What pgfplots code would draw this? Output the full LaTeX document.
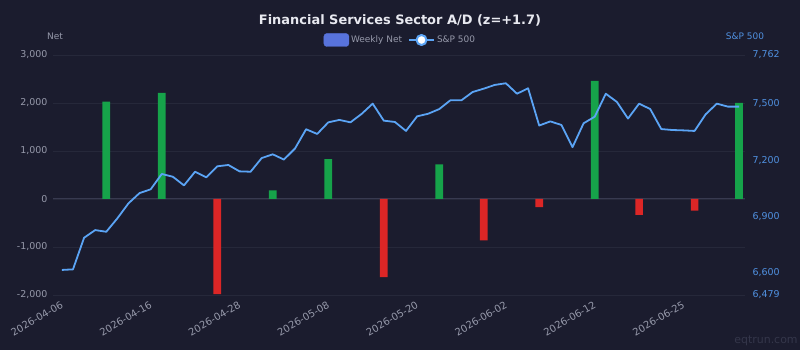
\documentclass[border=0pt]{standalone}
\usepackage{pgfplots}
\pgfplotsset{compat=1.18}
\usepackage{fontspec}
\setmainfont{DejaVu Sans}
\definecolor{bg}{RGB}{27,28,46}
\definecolor{gridc}{RGB}{38,40,58}
\definecolor{zeroc}{RGB}{56,58,80}
\definecolor{pos}{RGB}{22,163,74}
\definecolor{neg}{RGB}{220,38,38}
\definecolor{sp}{RGB}{91,164,245}
\definecolor{lab}{RGB}{150,153,170}
\definecolor{rlab}{RGB}{80,145,225}
\definecolor{titlec}{RGB}{232,233,240}
\definecolor{legblue}{RGB}{88,115,220}
\definecolor{wm}{RGB}{52,54,74}
\begin{document}
\begin{tikzpicture}
\path[use as bounding box, fill=bg] (0,0) rectangle (800bp,350bp);
\begin{axis}[
  at={(53bp,55bp)}, anchor=south west,
  scale only axis, width=692bp, height=240bp,
  xmin=-0.8, xmax=61.54,
  ymin=-2000, ymax=3000,
  ytick={-2000,-1000,...,3000},
  extra y ticks={0}, extra y tick labels={},
  extra y tick style={grid style={zeroc, line width=1bp}},
  axis line style={draw=none},
  major tick length=0pt,
  ymajorgrids, grid style={gridc, line width=0.8bp},
  xtick={0,8,...,56},
  xticklabels={2026-04-06,2026-04-16,2026-04-28,2026-05-08,2026-05-20,2026-06-02,2026-06-12,2026-06-25},
  xticklabel style={rotate=30, anchor=east, font=\fontsize{10}{12}\selectfont, text=lab, yshift=-8bp, xshift=-1bp},
  yticklabel style={font=\fontsize{9.5}{11}\selectfont, text=lab, xshift=-2bp},
  /pgf/number format/assume math mode=true,
  /pgf/number format/1000 sep={,},
  clip=false,
]
\addplot[ybar, bar width=7.7bp, bar shift=0pt, fill=pos, draw=none] coordinates {
(4,2030) (9,2210) (19,180) (24,830) (34,720) (48,2460) (61,2000)};
\addplot[ybar, bar width=7.7bp, bar shift=0pt, fill=neg, draw=none] coordinates {
(14,-1980) (29,-1630) (38,-860) (43,-170) (52,-330) (57,-240)};
\end{axis}
\begin{axis}[
  at={(53bp,55bp)}, anchor=south west,
  scale only axis, width=692bp, height=240bp,
  xmin=-0.8, xmax=61.54,
  ymin=6479, ymax=7762,
  axis x line=none,
  axis y line*=right,
  axis line style={draw=none},
  major tick length=0pt,
  ytick={6479,6600,6900,7200,7500,7762},
  yticklabel style={font=\fontsize{9.5}{11}\selectfont, text=rlab, xshift=4bp},
  /pgf/number format/assume math mode=true,
  /pgf/number format/1000 sep={,},
  legend columns=2,
  legend style={at={(axis description cs:0.502,1)}, anchor=center, yshift=15bp,
    draw=none, fill=none, font=\fontsize{9}{11}\selectfont, text=lab,
    /tikz/every even column/.append style={column sep=4bp}},
]
\addlegendimage{legend image code/.code={\fill[legblue, rounded corners=3bp] (0bp,-6.5bp) rectangle (25bp,6.5bp);}}
\addlegendentry{Weekly Net}
\addplot[sp, line width=1.8bp, line join=round,
  legend image code/.code={\draw[sp, line width=2bp] (0bp,0bp) -- (25bp,0bp); \draw[sp, fill=white, line width=2bp] (12.5bp,0bp) circle (5bp);}]
coordinates {
(0,6613) (1,6616) (2,6785) (3,6826) (4,6817) (5,6889) (6,6969) (7,7024) (8,7044) (9,7126)
(10,7111) (11,7065) (12,7138) (13,7108) (14,7167) (15,7174) (16,7140) (17,7138) (18,7211) (19,7231)
(20,7203) (21,7262) (22,7365) (23,7340) (24,7402) (25,7415) (26,7402) (27,7447) (28,7502) (29,7411)
(30,7404) (31,7356) (32,7434) (33,7448) (34,7473) (35,7520) (36,7520) (37,7564) (38,7582) (39,7602)
(40,7611) (41,7555) (42,7584) (43,7385) (44,7407) (45,7388) (46,7269) (47,7397) (48,7432) (49,7555)
(50,7511) (51,7422) (52,7502) (53,7473) (54,7366) (55,7361) (56,7359) (57,7356) (58,7445) (59,7502)
(60,7486) (61,7486)};
\addlegendentry{S\&P 500}
\end{axis}
\node[font=\bfseries\fontsize{13}{15}\selectfont, text=titlec] at (400bp,330bp) {Financial Services Sector A/D (z=+1.7)};
\node[font=\fontsize{9}{11}\selectfont, text=lab] at (55bp,314bp) {Net};
\node[font=\fontsize{9}{11}\selectfont, text=rlab] at (745bp,314bp) {S\&P 500};
\node[font=\fontsize{11}{13}\selectfont, text=wm] at (766bp,9bp) {eqtrun.com};
\end{tikzpicture}
\end{document}
